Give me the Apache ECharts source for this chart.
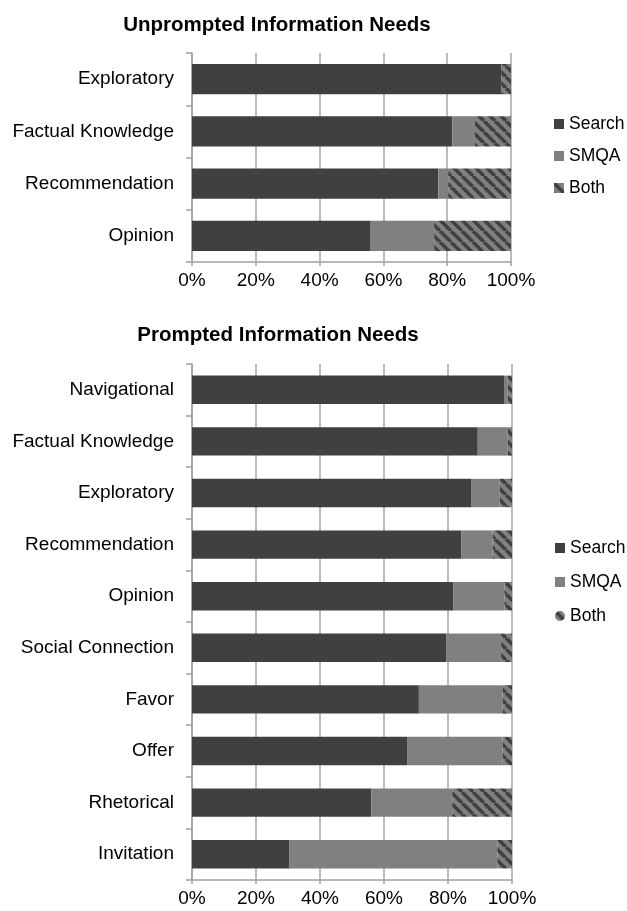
<!DOCTYPE html>
<html>
<head>
<meta charset="utf-8">
<script src="https://cdn.jsdelivr.net/npm/echarts@6/dist/echarts.min.js"></script>
<style>
html,body{margin:0;padding:0;background:#fff;}
#chart{width:627px;height:911px;}
</style>
</head>
<body>
<div id="chart"></div>
<script>
// ---- Data ----
const seriesNames = ['Search', 'SMQA', 'Both'];
const tickLabels = ['0%', '20%', '40%', '60%', '80%', '100%'];

const unpromptedCategories = ['Exploratory', 'Factual Knowledge', 'Recommendation', 'Opinion'];
const unpromptedSearch = [96.9, 81.6, 77.2, 55.8];
const unpromptedSMQA   = [0.0, 7.1, 3.1, 20.1];
const unpromptedBoth   = [3.1, 11.3, 19.7, 24.1];

const promptedCategories = ['Navigational', 'Factual Knowledge', 'Exploratory', 'Recommendation', 'Opinion',
  'Social Connection', 'Favor', 'Offer', 'Rhetorical', 'Invitation'];
const promptedSearch = [97.5, 89.3, 87.2, 84.1, 81.6, 79.4, 70.9, 67.2, 56.0, 30.5];
const promptedSMQA   = [1.2, 9.4, 9.0, 9.8, 16.0, 17.2, 26.1, 29.8, 25.3, 64.9];
const promptedBoth   = [1.3, 1.3, 3.8, 6.1, 2.4, 3.4, 3.0, 3.0, 18.7, 4.6];

// ---- Styles ----
const FONT = '"Liberation Sans", Arial, sans-serif';
const DARK = '#404040';
const MID = '#808080';

function makeHatch() {
  const s = 11;
  const c = document.createElement('canvas');
  c.width = s; c.height = s;
  const ctx = c.getContext('2d');
  ctx.fillStyle = MID;
  ctx.fillRect(0, 0, s, s);
  ctx.strokeStyle = DARK;
  ctx.lineWidth = 3.5;
  for (let k = -1; k <= 1; k++) {
    ctx.beginPath();
    ctx.moveTo(k * s, 0);
    ctx.lineTo(k * s + s, s);
    ctx.stroke();
  }
  return c;
}
const hatch = { image: makeHatch(), repeat: 'repeat' };
const colors = [DARK, MID, hatch];

function xAxisCfg(gridIndex) {
  return {
    type: 'value', gridIndex: gridIndex, min: 0, max: 100, interval: 20,
    axisLabel: {
      formatter: v => tickLabels[Math.round(v / 20)],
      fontFamily: FONT, fontSize: 19, color: '#000', margin: 9
    },
    axisLine: { show: true, lineStyle: { color: '#a0a0a0', width: 1.5 } },
    axisTick: { show: true, length: 4, lineStyle: { color: '#a0a0a0', width: 1.5 } },
    splitLine: { show: true, lineStyle: { color: '#a6a6a6', width: 1.5 } }
  };
}
function yAxisCfg(gridIndex, cats) {
  return {
    type: 'category', gridIndex: gridIndex, data: cats, inverse: true,
    axisLabel: { fontFamily: FONT, fontSize: 19, color: '#000', margin: 18 },
    axisLine: { show: true, lineStyle: { color: '#a0a0a0', width: 1.5 } },
    axisTick: { show: true, length: 6, lineStyle: { color: '#a0a0a0', width: 1.5 } },
    splitLine: { show: false }
  };
}
function barSeries(name, data, idx, stack, gap) {
  return {
    name: name, type: 'bar', stack: stack, data: data,
    xAxisIndex: idx, yAxisIndex: idx,
    barCategoryGap: gap,
    itemStyle: { color: colors[seriesNames.indexOf(name)] },
    emphasis: { disabled: true },
    animation: false
  };
}

const chart = echarts.init(document.getElementById('chart'), null, { renderer: 'canvas' });
chart.setOption({
  animation: false,
  backgroundColor: '#fff',
  title: [
    { text: 'Unprompted Information Needs', left: 272, top: 10, textAlign: 'center',
      textStyle: { fontFamily: FONT, fontSize: 20.5, fontWeight: 'bold', color: '#000' } },
    { text: 'Prompted Information Needs', left: 273, top: 320, textAlign: 'center',
      textStyle: { fontFamily: FONT, fontSize: 20.5, fontWeight: 'bold', color: '#000' } }
  ],
  legend: [
    { orient: 'vertical', left: 549, top: 109, itemWidth: 10, itemHeight: 10, itemGap: 12,
      icon: 'rect', selectedMode: false,
      textStyle: { fontFamily: FONT, fontSize: 17.5, color: '#000', lineHeight: 20 },
      data: seriesNames.map(n => ({ name: n })) },
    { orient: 'vertical', left: 550, top: 533, itemWidth: 10, itemHeight: 10, itemGap: 14,
      selectedMode: false,
      textStyle: { fontFamily: FONT, fontSize: 17.5, color: '#000', lineHeight: 20 },
      data: seriesNames.map(n => ({ name: n, icon: n === 'Both' ? 'circle' : 'rect' })) }
  ],
  grid: [
    { left: 192, top: 53, width: 319, height: 209 },
    { left: 192, top: 364, width: 320, height: 516 }
  ],
  xAxis: [xAxisCfg(0), xAxisCfg(1)],
  yAxis: [yAxisCfg(0, unpromptedCategories), yAxisCfg(1, promptedCategories)],
  series: [
    barSeries('Search', unpromptedSearch, 0, 'u', '42%'),
    barSeries('SMQA', unpromptedSMQA, 0, 'u', '42%'),
    barSeries('Both', unpromptedBoth, 0, 'u', '42%'),
    barSeries('Search', promptedSearch, 1, 'p', '45%'),
    barSeries('SMQA', promptedSMQA, 1, 'p', '45%'),
    barSeries('Both', promptedBoth, 1, 'p', '45%')
  ]
});
</script>
</body>
</html>
